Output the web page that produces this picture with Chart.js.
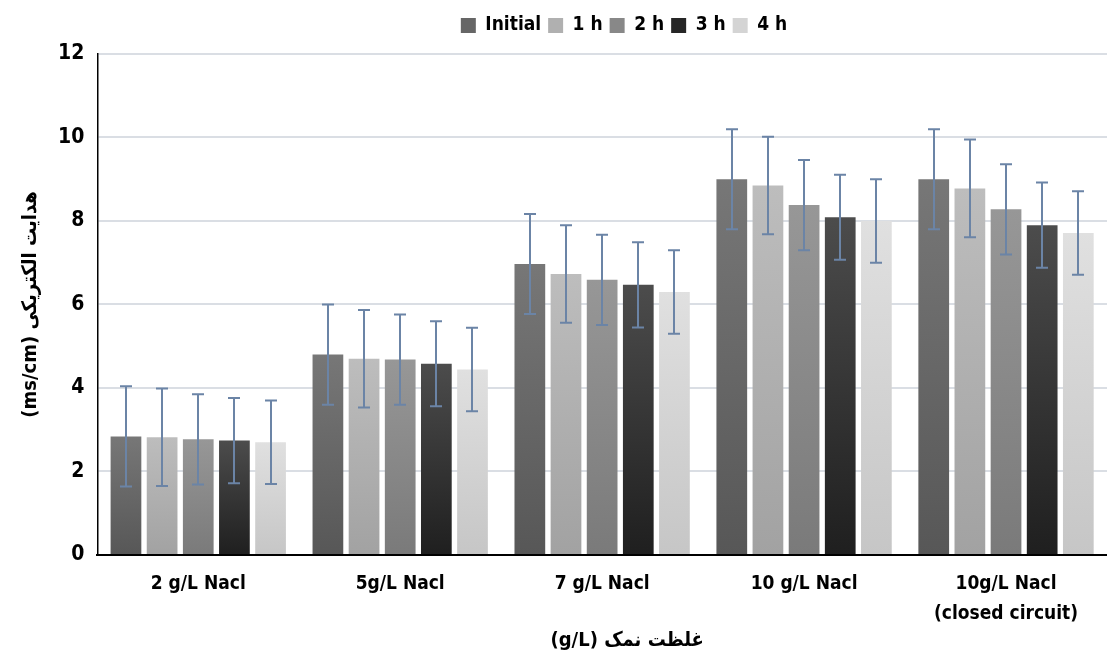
<!DOCTYPE html>
<html>
<head>
<meta charset="utf-8">
<script src="https://cdn.jsdelivr.net/npm/chart.js@4/dist/chart.umd.min.js"></script>
<style>
  html, body { margin: 0; padding: 0; background: #ffffff; }
  #wrap { width: 1107px; height: 656px; }
</style>
</head>
<body>
<div id="wrap"><canvas id="c" width="1107" height="656"></canvas></div>
<script>
// ---- data ----
const categories = ["2 g/L Nacl", "5g/L Nacl", "7 g/L Nacl", "10 g/L Nacl", ["10g/L Nacl", "(closed circuit)"]];
const seriesNames = ["Initial", "1 h", "2 h", "3 h", "4 h"];
const initialValues = [2.84, 4.80, 6.97, 9.00, 9.00];
const h1Values      = [2.82, 4.70, 6.73, 8.85, 8.78];
const h2Values      = [2.77, 4.68, 6.59, 8.38, 8.28];
const h3Values      = [2.74, 4.58, 6.47, 8.09, 7.90];
const h4Values      = [2.70, 4.44, 6.30, 8.00, 7.71];
const initialErr = [1.20, 1.20, 1.20, 1.20, 1.20];
const h1Err      = [1.17, 1.17, 1.17, 1.17, 1.17];
const h2Err      = [1.08, 1.08, 1.08, 1.08, 1.08];
const h3Err      = [1.02, 1.02, 1.02, 1.02, 1.02];
const h4Err      = [1.00, 1.00, 1.00, 1.00, 1.00];
const yTicks = [0, 2, 4, 6, 8, 10, 12];
const yTitle = "(ms/cm) هدایت الکتریکی";
const xTitle = "        (g/L) غلظت نمک";

// ---- styles ----
const gradTop    = ["#777777", "#bdbdbd", "#979797", "#4c4c4c", "#e0e0e0"];
const gradBottom = ["#575757", "#a2a2a2", "#7a7a7a", "#1f1f1f", "#c6c6c6"];
const legendFill = ["#666666", "#b0b0b0", "#888888", "#262626", "#d4d4d4"];
const FONT = "'Liberation Sans Narrow', 'DejaVu Sans Condensed', 'DejaVu Sans', sans-serif";

const allValues = [initialValues, h1Values, h2Values, h3Values, h4Values];
const allErrs = [initialErr, h1Err, h2Err, h3Err, h4Err];

function barFill(i) {
  return function(ctx) {
    if (ctx.type !== 'data') return legendFill[i];
    const chart = ctx.chart;
    const ys = chart.scales && chart.scales.y;
    if (!chart.chartArea || !ys) return legendFill[i];
    const top = ys.getPixelForValue(ctx.raw);
    const bot = ys.getPixelForValue(0);
    if (!isFinite(top) || !isFinite(bot) || top === bot) return legendFill[i];
    const g = chart.ctx.createLinearGradient(0, top, 0, bot);
    g.addColorStop(0, gradTop[i]);
    g.addColorStop(1, gradBottom[i]);
    return g;
  };
}

const datasets = seriesNames.map((name, i) => ({
  label: name,
  data: allValues[i],
  errors: allErrs[i],
  backgroundColor: barFill(i),
  borderWidth: 0,
  categoryPercentage: 0.895,
  barPercentage: 0.85
}));

const errorBars = {
  id: 'errorBars',
  afterDatasetsDraw(chart) {
    const c = chart.ctx;
    const ys = chart.scales.y;
    c.save();
    c.strokeStyle = '#6b84a6';
    c.lineWidth = 2;
    chart.data.datasets.forEach((ds, di) => {
      const meta = chart.getDatasetMeta(di);
      if (meta.hidden) return;
      meta.data.forEach((bar, j) => {
        const v = ds.data[j], e = ds.errors[j];
        const x = Math.round(bar.x);
        const yT = ys.getPixelForValue(v + e);
        const yB = ys.getPixelForValue(v - e);
        c.beginPath();
        c.moveTo(x, yT); c.lineTo(x, yB);
        c.moveTo(x - 6, yT); c.lineTo(x + 6, yT);
        c.moveTo(x - 6, yB); c.lineTo(x + 6, yB);
        c.stroke();
      });
    });
    c.restore();
  }
};

// extra space below the legend, and shift legend to the right like the reference
const legendTweak = {
  id: 'legendTweak',
  beforeInit(chart) {
    const lg = chart.legend;
    if (!lg) return;
    const origFit = lg.fit;
    lg.fit = function() { origFit.call(this); this.height += 9; };
  },
  afterLayout(chart) {
    const lg = chart.legend;
    if (!lg) return;
    const shift = 624 - (lg.left + lg.right) / 2;
    lg.left += shift; lg.right += shift;
  }
};

new Chart(document.getElementById('c'), {
  type: 'bar',
  data: { labels: categories, datasets },
  plugins: [errorBars, legendTweak],
  options: {
    responsive: false,
    animation: false,
    devicePixelRatio: 1,
    layout: { padding: { left: 19, right: 0, top: 9, bottom: 5 } },
    plugins: {
      tooltip: { enabled: false },
      legend: {
        position: 'top',
        labels: {
          color: '#000000',
          font: { family: FONT, size: 19, weight: 'bold' },
          boxWidth: 15, boxHeight: 15,
          padding: 7,
          generateLabels(chart) {
            return chart.data.datasets.map((ds, i) => ({
              text: ds.label,
              fillStyle: legendFill[i],
              strokeStyle: legendFill[i],
              lineWidth: 0,
              hidden: false,
              datasetIndex: i,
              fontColor: '#000000'
            }));
          }
        }
      }
    },
    scales: {
      x: {
        grid: { display: false, drawTicks: false },
        border: { display: true, color: '#000000', width: 2 },
        ticks: { color: '#000000', font: { family: FONT, size: 19, weight: 'bold', lineHeight: 1.58 }, padding: 14, maxRotation: 0 },
        title: { display: true, text: xTitle, color: '#000000', font: { family: FONT, size: 20, weight: 'bold', lineHeight: 1.0 }, padding: { top: -12, bottom: 0 } }
      },
      y: {
        min: 0, max: 12,
        afterBuildTicks(axis) { axis.ticks = yTicks.map(v => ({ value: v })); },
        grid: { color: '#dadee4', lineWidth: 2, drawTicks: false },
        border: { display: true, color: '#000000', width: 1.5 },
        ticks: { color: '#000000', font: { family: FONT, size: 21, weight: 'bold' }, padding: 13 },
        title: { display: true, text: yTitle, color: '#000000', font: { family: FONT, size: 20, weight: 'bold' }, padding: { top: 0, bottom: 2 } }
      }
    }
  }
});
</script>
</body>
</html>
